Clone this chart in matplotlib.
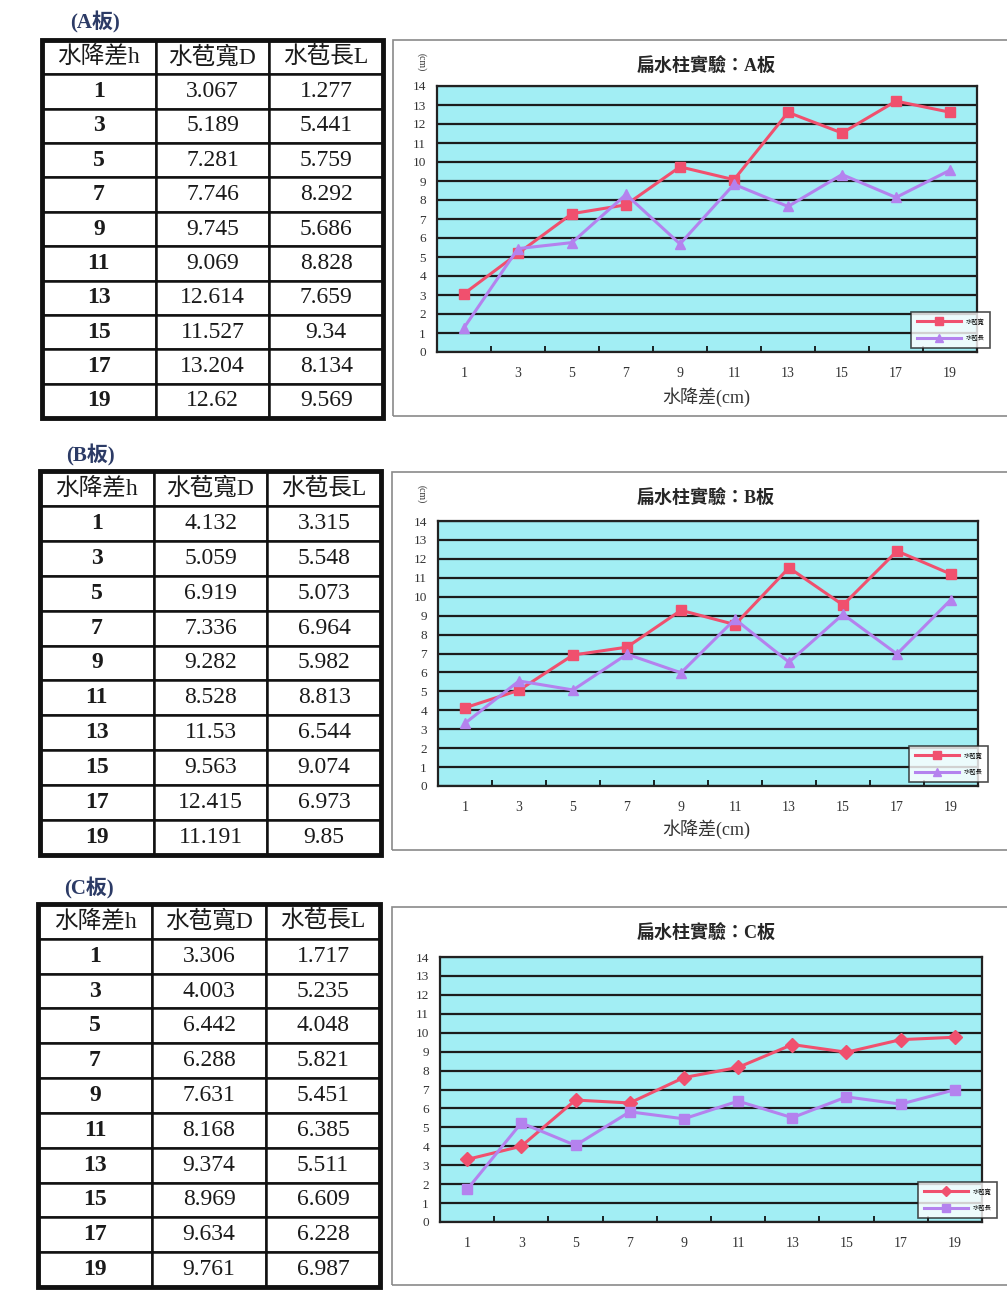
import numpy as np
import matplotlib.pyplot as plt
from matplotlib.patches import Rectangle

W, H = 1007, 1313
serif_cjk = ['Liberation Serif', 'Noto Sans CJK TC']
sans_cjk = ['Noto Sans CJK TC', 'DejaVu Sans']

# 水降差 h (cm)
h = [1, 3, 5, 7, 9, 11, 13, 15, 17, 19]

# A板
A_D = [3.067, 5.189, 7.281, 7.746, 9.745, 9.069, 12.614, 11.527, 13.204, 12.62]
A_L = [1.277, 5.441, 5.759, 8.292, 5.686, 8.828, 7.659, 9.34, 8.134, 9.569]
# B板
B_D = [4.132, 5.059, 6.919, 7.336, 9.282, 8.528, 11.53, 9.563, 12.415, 11.191]
B_L = [3.315, 5.548, 5.073, 6.964, 5.982, 8.813, 6.544, 9.074, 6.973, 9.85]
# C板
C_D = [3.306, 4.003, 6.442, 6.288, 7.631, 8.168, 9.374, 8.969, 9.634, 9.761]
C_L = [1.717, 5.235, 4.048, 5.821, 5.451, 6.385, 5.511, 6.609, 6.228, 6.987]

col_labels = ['水降差h', '水苞寬D', '水苞長L']
series_labels = ['水苞寬', '水苞長']

D_COLOR = '#f0506e'
L_COLOR = '#b482ee'
CYAN = '#a2eef4'


def box(x0, y0, x1, y1):
    return [x0 / W, 1 - y1 / H, (x1 - x0) / W, (y1 - y0) / H]


fig = plt.figure(figsize=(W / 100, H / 100), dpi=100)
fig.patch.set_facecolor('white')


def draw_table(x0, y0, x1, y1, D, L, name, name_xy):
    fig.text(name_xy[0] / W, 1 - name_xy[1] / H, f'({name}板)', family=serif_cjk,
             fontsize=15, fontweight='bold', color='#2c3b66', ha='left', va='center')
    ax = fig.add_axes(box(x0, y0, x1, y1))
    ax.axis('off')
    rows = [[str(a), f'{d:g}', f'{l:g}'] for a, d, l in zip(h, D, L)]
    tb = ax.table(cellText=rows, colLabels=col_labels, cellLoc='center',
                  bbox=[0, 0, 1, 1])
    tb.auto_set_font_size(False)
    for (r, c), cell in tb.get_celld().items():
        cell.set_linewidth(1.8)
        cell.set_edgecolor('#111111')
        t = cell.get_text()
        t.set_fontfamily(serif_cjk)
        t.set_fontsize(17)
        t.set_color('#1a1a1a')
        if r > 0 and c == 0:
            t.set_fontweight('bold')
    ax.add_patch(Rectangle((0, 0), 1, 1, transform=ax.transAxes, fill=False,
                           lw=3.5, edgecolor='#111111', clip_on=False))


def draw_chart(frame, plot, D, L, name, markers, legend_br, xlabel=True):
    fx0, fy0, fx1, fy1 = frame
    fig.patches.append(Rectangle((fx0 / W, 1 - fy1 / H), (fx1 - fx0) / W, (fy1 - fy0) / H,
                                 transform=fig.transFigure, fill=False,
                                 edgecolor='#8a8a8a', lw=1.2))
    ax = fig.add_axes(box(*plot))
    ax.set_facecolor(CYAN)
    ax.plot(h, D, color=D_COLOR, lw=2.2, marker=markers[0], ms=7,
            label=series_labels[0], zorder=3)
    ax.plot(h, L, color=L_COLOR, lw=2.2, marker=markers[1], ms=7,
            label=series_labels[1], zorder=3)
    ax.set_xlim(0, 20)
    ax.set_ylim(0, 14)
    ax.set_yticks(range(0, 15))
    ax.set_xticks(h)
    ax.set_xticks(range(0, 21, 2), minor=True)
    ax.tick_params(axis='both', which='major', length=0, labelsize=9.5, colors='#333333')
    ax.tick_params(axis='x', which='major', pad=11, labelsize=10)
    ax.tick_params(axis='y', which='major', pad=8)
    ax.tick_params(axis='x', which='minor', direction='in', length=4, width=1.2)
    for lab in ax.get_xticklabels() + ax.get_yticklabels():
        lab.set_fontfamily('Liberation Serif')
    ax.grid(axis='y', color='#1c1c1c', lw=1.6)
    ax.set_axisbelow(True)
    for s in ax.spines.values():
        s.set_color('#222222')
        s.set_linewidth(1.6)
    fig.text(706 / W, 1 - (fy0 + 27) / H, f'扁水柱實驗：{name}板', family=serif_cjk,
             fontsize=13, fontweight='bold', ha='center', va='center', color='#262626')
    if xlabel:
        fig.text(706 / W, 1 - (fy0 + 357) / H, '水降差(cm)', family=serif_cjk,
                 fontsize=13, ha='center', va='center', color='#333333')
        fig.text(421 / W, 1 - (fy0 + 22) / H, '(cm)', family='Liberation Serif',
                 fontsize=7, rotation=270, ha='center', va='center', color='#333333')
    leg = ax.legend(loc='lower right', bbox_to_anchor=(legend_br[0] / W, 1 - legend_br[1] / H),
                    bbox_transform=fig.transFigure, prop={'family': sans_cjk, 'size': 4.5},
                    frameon=True, fancybox=False, borderaxespad=0, handlelength=7,
                    markerscale=0.8, labelspacing=1.4, borderpad=0.9)
    leg.get_frame().set_edgecolor('#222222')
    leg.get_frame().set_linewidth(1.2)


draw_table(42, 40, 383, 418, A_D, A_L, 'A', (70, 22))
draw_chart((393, 40, 1010, 416), (437, 86, 977, 352), A_D, A_L, 'A', ('s', '^'), (990, 348))

draw_table(40, 471, 381, 855, B_D, B_L, 'B', (66, 455))
draw_chart((392, 472, 1010, 850), (438, 521, 978, 786), B_D, B_L, 'B', ('s', '^'), (988, 782))

draw_table(38, 904, 380, 1287, C_D, C_L, 'C', (64, 888))
draw_chart((392, 907, 1010, 1285), (440, 957, 982, 1222), C_D, C_L, 'C', ('D', 's'), (997, 1218),
           xlabel=False)

fig.savefig('out.png', dpi=100)
